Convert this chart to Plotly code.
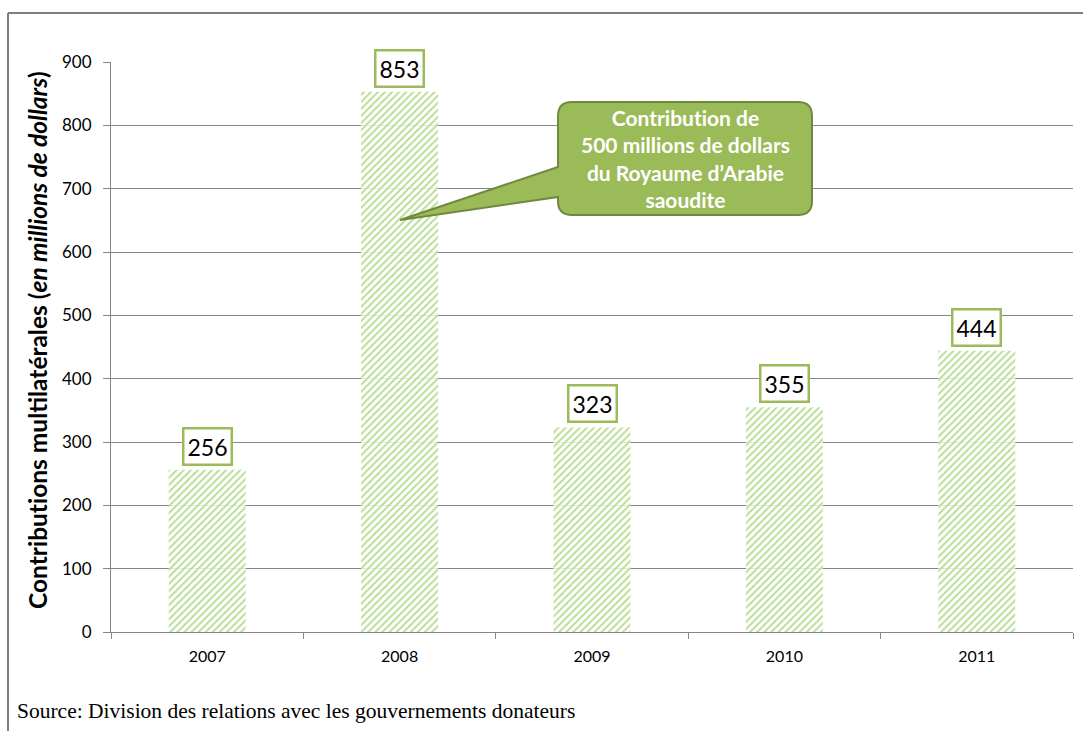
import plotly.graph_objects as go

# Contributions multilatérales, en millions de dollars
years = ["2007", "2008", "2009", "2010", "2011"]
contributions = [256, 853, 323, 355, 444]
y_ticks = [0, 100, 200, 300, 400, 500, 600, 700, 800, 900]

W, H = 1083, 731
ML, MR, MT, MB = 111, 10, 62, 99
PW, PH = W - ML - MR, H - MT - MB


def px(x):
    return (x - ML) / PW


def py(y):
    return (H - MB - y) / PH


green = "#9BBB59"
hatch = "#B5DC8E"
font_sans = "Lato, Open Sans, sans-serif"

fig = go.Figure()
fig.add_trace(go.Bar(
    x=years,
    y=contributions,
    width=0.4,
    marker=dict(
        color="rgba(255,255,255,0)",
        line=dict(width=0),
        pattern=dict(shape="/", fgcolor=hatch, bgcolor="rgba(255,255,255,0.8)",
                     size=5, solidity=0.35, fillmode="replace"),
    ),
    hoverinfo="skip",
    showlegend=False,
))

# value boxes above bars
for i, v in enumerate(contributions):
    fig.add_annotation(
        x=i, y=v, xref="x", yref="y", text=str(v), showarrow=False,
        yanchor="bottom", yshift=4,
        font=dict(family=font_sans, size=23, color="#000000"),
        bgcolor="#ffffff", bordercolor=green, borderwidth=2.5, borderpad=3,
    )

# callout bubble
x0, x1, y0, y1, r = 558, 812, 102, 215, 14
tipx, tipy = 400, 220
path = (
    f"M {px(x0 + r)},{py(y0)} L {px(x1 - r)},{py(y0)} "
    f"Q {px(x1)},{py(y0)} {px(x1)},{py(y0 + r)} "
    f"L {px(x1)},{py(y1 - r)} Q {px(x1)},{py(y1)} {px(x1 - r)},{py(y1)} "
    f"L {px(x0 + r)},{py(y1)} Q {px(x0)},{py(y1)} {px(x0)},{py(y1 - r)} "
    f"L {px(x0)},{py(197)} L {px(tipx)},{py(tipy)} L {px(x0)},{py(167)} "
    f"L {px(x0)},{py(y0 + r)} Q {px(x0)},{py(y0)} {px(x0 + r)},{py(y0)} Z"
)
fig.add_shape(type="path", path=path, xref="paper", yref="paper",
              fillcolor=green, line=dict(color="#71893F", width=2), layer="above")
fig.add_annotation(
    x=px((x0 + x1) / 2), y=py((y0 + y1) / 2), xref="paper", yref="paper",
    xanchor="center", yanchor="middle",
    text="<b>Contribut\u200cion de<br>500 millions de dollars<br>du Royaume d’Arabie<br>saoudite</b>",
    showarrow=False, align="center",
    font=dict(family=font_sans, size=21, color="#ffffff"),
)

# y-axis title
fig.add_annotation(
    x=px(37), y=py(340), xref="paper", yref="paper",
    xanchor="center", yanchor="middle", textangle=-90, showarrow=False,
    text="<b>Contribut\u200cions multilatérales (<i>en millions de dollars</i>)</b>",
    font=dict(family=font_sans, size=24.5, color="#000000"),
)

# outer frame
fig.add_shape(type="line", xref="paper", yref="paper",
              x0=px(8), y0=py(13), x1=px(8), y1=py(H + 5),
              line=dict(color="#7f7f7f", width=2))
fig.add_shape(type="line", xref="paper", yref="paper",
              x0=px(8), y0=py(13), x1=px(W + 5), y1=py(13),
              line=dict(color="#7f7f7f", width=2))

# source note
fig.add_annotation(
    x=px(15), y=py(711), xref="paper", yref="paper", xanchor="left", yanchor="middle",
    text="Source: Division des relations avec les gouvernements donateurs",
    showarrow=False, font=dict(family="Liberation Serif, serif", size=21.5, color="#000000"),
)

fig.update_layout(
    width=W, height=H,
    margin=dict(l=ML, r=MR, t=MT, b=MB),
    paper_bgcolor="#ffffff", plot_bgcolor="#ffffff",
    xaxis=dict(
        type="category", range=[-0.5, len(years) - 0.5],
        tickson="boundaries", ticks="outside", ticklen=6,
        tickcolor="#868686", showline=True, linecolor="#868686", linewidth=1,
        showgrid=False, tickangle=0, ticklabelstandoff=10,
        tickfont=dict(family=font_sans, size=16, color="#000000"),
    ),
    yaxis=dict(
        range=[0, 900], tickvals=y_ticks, ticks="outside", ticklen=7,
        tickcolor="#868686", showline=True, linecolor="#868686", linewidth=1,
        showgrid=True, gridcolor="#868686", gridwidth=1, zeroline=False,
        ticklabelstandoff=8,
        tickfont=dict(family=font_sans, size=17, color="#000000"),
    ),
)

fig.write_html("out.html")
